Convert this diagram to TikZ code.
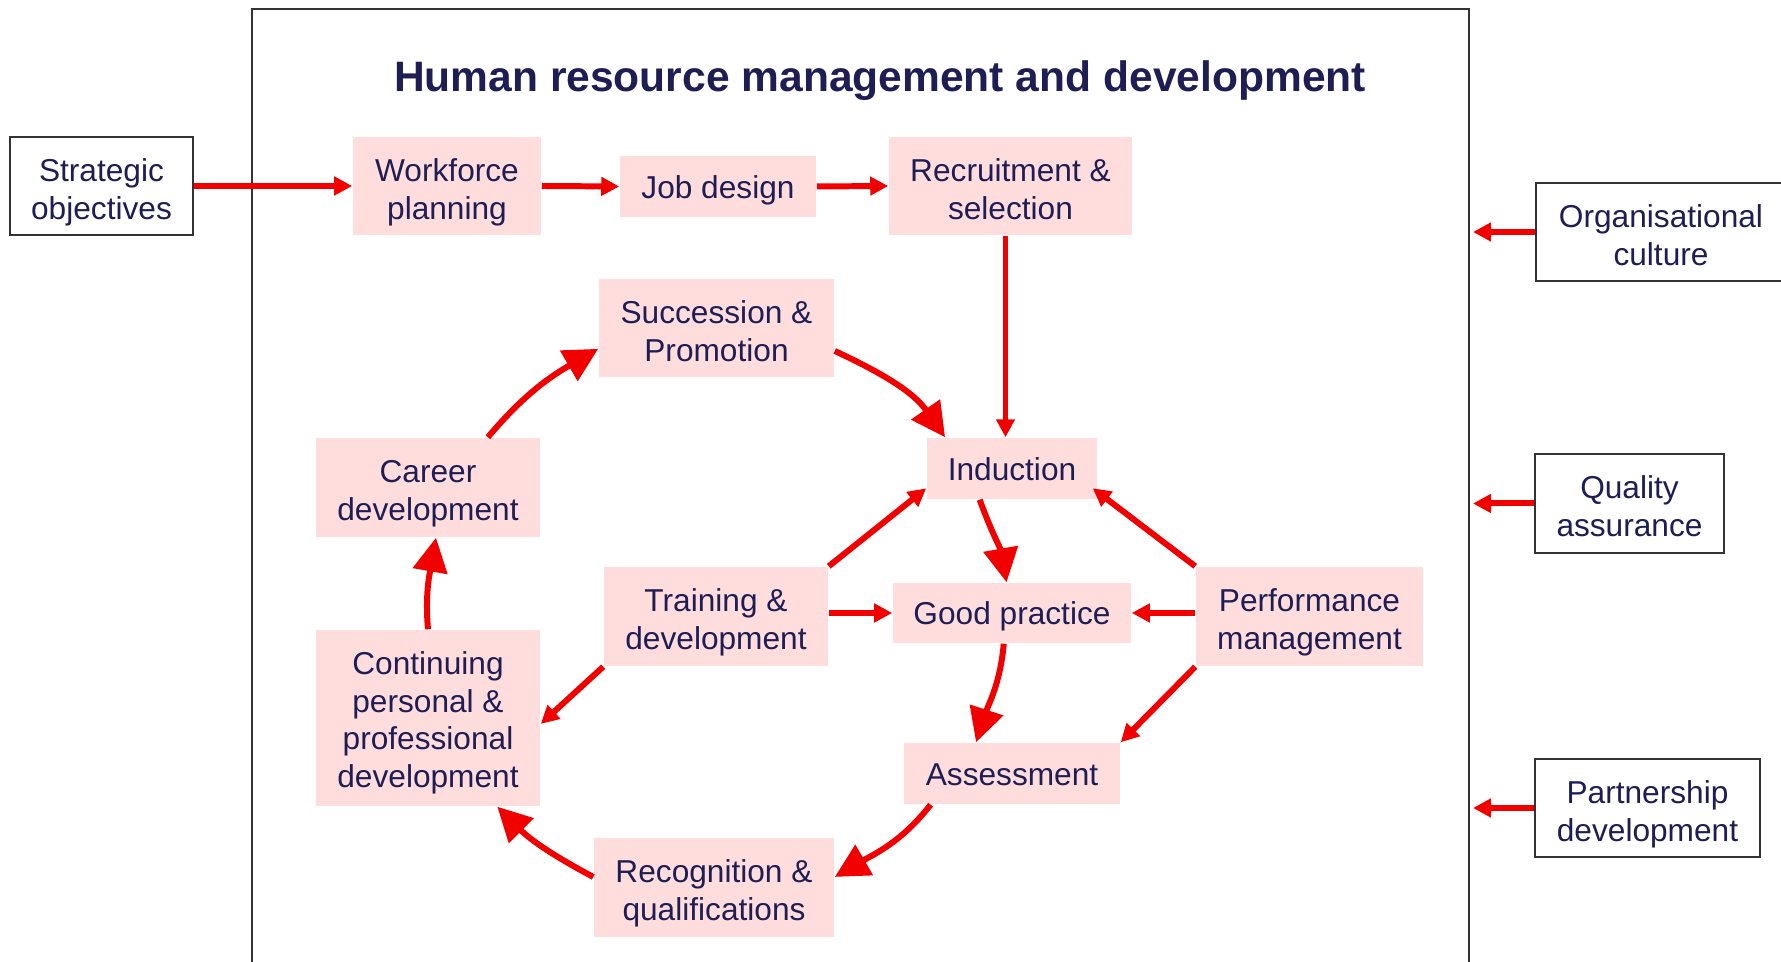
\documentclass[tikz,border=0pt]{standalone}
\usepackage{fontspec}
\setmainfont{Liberation Sans}
\usepackage{xcolor}
\usepackage{tikz}
\usetikzlibrary{arrows.meta}
\definecolor{hrnavy}{HTML}{1E1E55}
\definecolor{hrred}{HTML}{F20000}
\definecolor{hrpink}{HTML}{FFDDDD}
\definecolor{hrrule}{HTML}{333333}
\newcommand{\hrfont}{\fontsize{9}{10.8}\selectfont}
\tikzset{
  stage/.style={fill=hrpink, text=hrnavy, align=center, inner sep=0pt, font=\hrfont,
                text height=8.55pt, text depth=1.8pt},
  twoline/.style={text height=20.6pt},
  fourline/.style={text height=41.6pt},
  factor/.style={stage, twoline, draw=hrrule, fill=white, line width=0.8pt},
  flow/.style={-{Triangle[length=0.18cm, width=0.18cm]}, draw=hrred, line width=1.7pt},
  loop/.style={-{Triangle[length=0.34cm, width=0.34cm]}, draw=hrred, line width=1.7pt},
}

\begin{document}
\begin{tikzpicture}[x=0.01cm, y=0.01cm]
  \useasboundingbox (0,0) rectangle (1781,-962);
  \draw[hrrule, line width=0.8pt] (252,-9) rectangle (1469,-1010);
  \coordinate (rim) at (1473,0);

  \node[text=hrnavy, font=\bfseries\fontsize{12.1}{14}\selectfont] (title) at (880,-80.5)
    {Human resource management and development};

  \node[factor, minimum width=1.83cm, minimum height=0.98cm] (strat) at (101.5,-186) {Strategic\\objectives};
  \node[factor, minimum width=2.50cm, minimum height=0.98cm] (culture) at (1661,-232) {Organisational\\culture};
  \node[factor, minimum width=1.89cm, minimum height=0.99cm] (quality) at (1629.5,-503.5) {Quality\\assurance};
  \node[factor, minimum width=2.25cm, minimum height=0.98cm] (partner) at (1647.5,-808) {Partnership\\development};

  \node[stage, twoline, minimum width=1.88cm, minimum height=0.98cm] (workforce) at (447,-186) {Workforce\\planning};
  \node[stage, minimum width=1.96cm, minimum height=0.61cm] (jobdesign) at (718,-186.5) {Job design};
  \node[stage, twoline, minimum width=2.43cm, minimum height=0.98cm] (recruit) at (1010.5,-186) {Recruitment \&\\selection};
  \node[stage, twoline, minimum width=2.35cm, minimum height=0.98cm] (succession) at (716.5,-328) {Succession \&\\Promotion};
  \node[stage, twoline, minimum width=2.24cm, minimum height=0.99cm] (career) at (428,-487.5) {Career\\development};
  \node[stage, minimum width=1.70cm, minimum height=0.61cm] (induction) at (1012,-468.5) {Induction};
  \node[stage, twoline, minimum width=2.24cm, minimum height=0.99cm] (training) at (716,-616.5) {Training \&\\development};
  \node[stage, minimum width=2.38cm, minimum height=0.60cm] (goodpractice) at (1012,-613) {Good practice};
  \node[stage, twoline, minimum width=2.27cm, minimum height=0.99cm] (performance) at (1309.5,-616.5) {Performance\\management};
  \node[stage, fourline, minimum width=2.24cm, minimum height=1.76cm] (cpd) at (428,-718)
    {Continuing\\personal \&\\professional\\development};
  \node[stage, minimum width=2.16cm, minimum height=0.61cm] (assessment) at (1012,-773.5) {Assessment};
  \node[stage, twoline, minimum width=2.40cm, minimum height=0.99cm] (recognition) at (714,-887.5) {Recognition \&\\qualifications};

  \draw[flow] (strat.east) -- (workforce.west);
  \draw[flow] (workforce.east) -- (jobdesign.west);
  \draw[flow] (jobdesign.east) -- (recruit.west);
  \draw[flow] ([xshift=-0.05cm]recruit.south) -- ([xshift=-0.05cm]recruit.south |- induction.north);
  \draw[flow] (culture.west) -- (culture.west -| rim);
  \draw[flow] (quality.west) -- (quality.west -| rim);
  \draw[flow] (partner.west) -- (partner.west -| rim);

  \draw[flow] (training.north east) -- (induction.193);
  \draw[flow] (goodpractice.west -| training.east) -- (goodpractice.west);
  \draw[flow] (training.south west) -- (cpd.-3);
  \draw[flow] (performance.north west) -- ([xshift=-0.05cm]induction.-13);
  \draw[flow] (goodpractice.east -| performance.west) -- (goodpractice.east);
  \draw[flow] (performance.south west) -- (assessment.north east);

  \draw[loop] (succession.-11) to[out=-25, in=125] (induction.155);
  \draw[loop] (induction.224) to[out=-70, in=100] (goodpractice.100);
  \draw[loop] (goodpractice.-105) to[out=-95, in=72] (assessment.139);
  \draw[loop] (assessment.201) to[out=232, in=30] (recognition.5);
  \draw[loop] (recognition.175) to[out=152, in=-45] (cpd.-52);
  \draw[loop] (cpd.north) to[out=95, in=-100] ([xshift=0.08cm]career.south);
  \draw[loop] (career.40) to[out=50, in=210] (succession.190);
\end{tikzpicture}
\end{document}
